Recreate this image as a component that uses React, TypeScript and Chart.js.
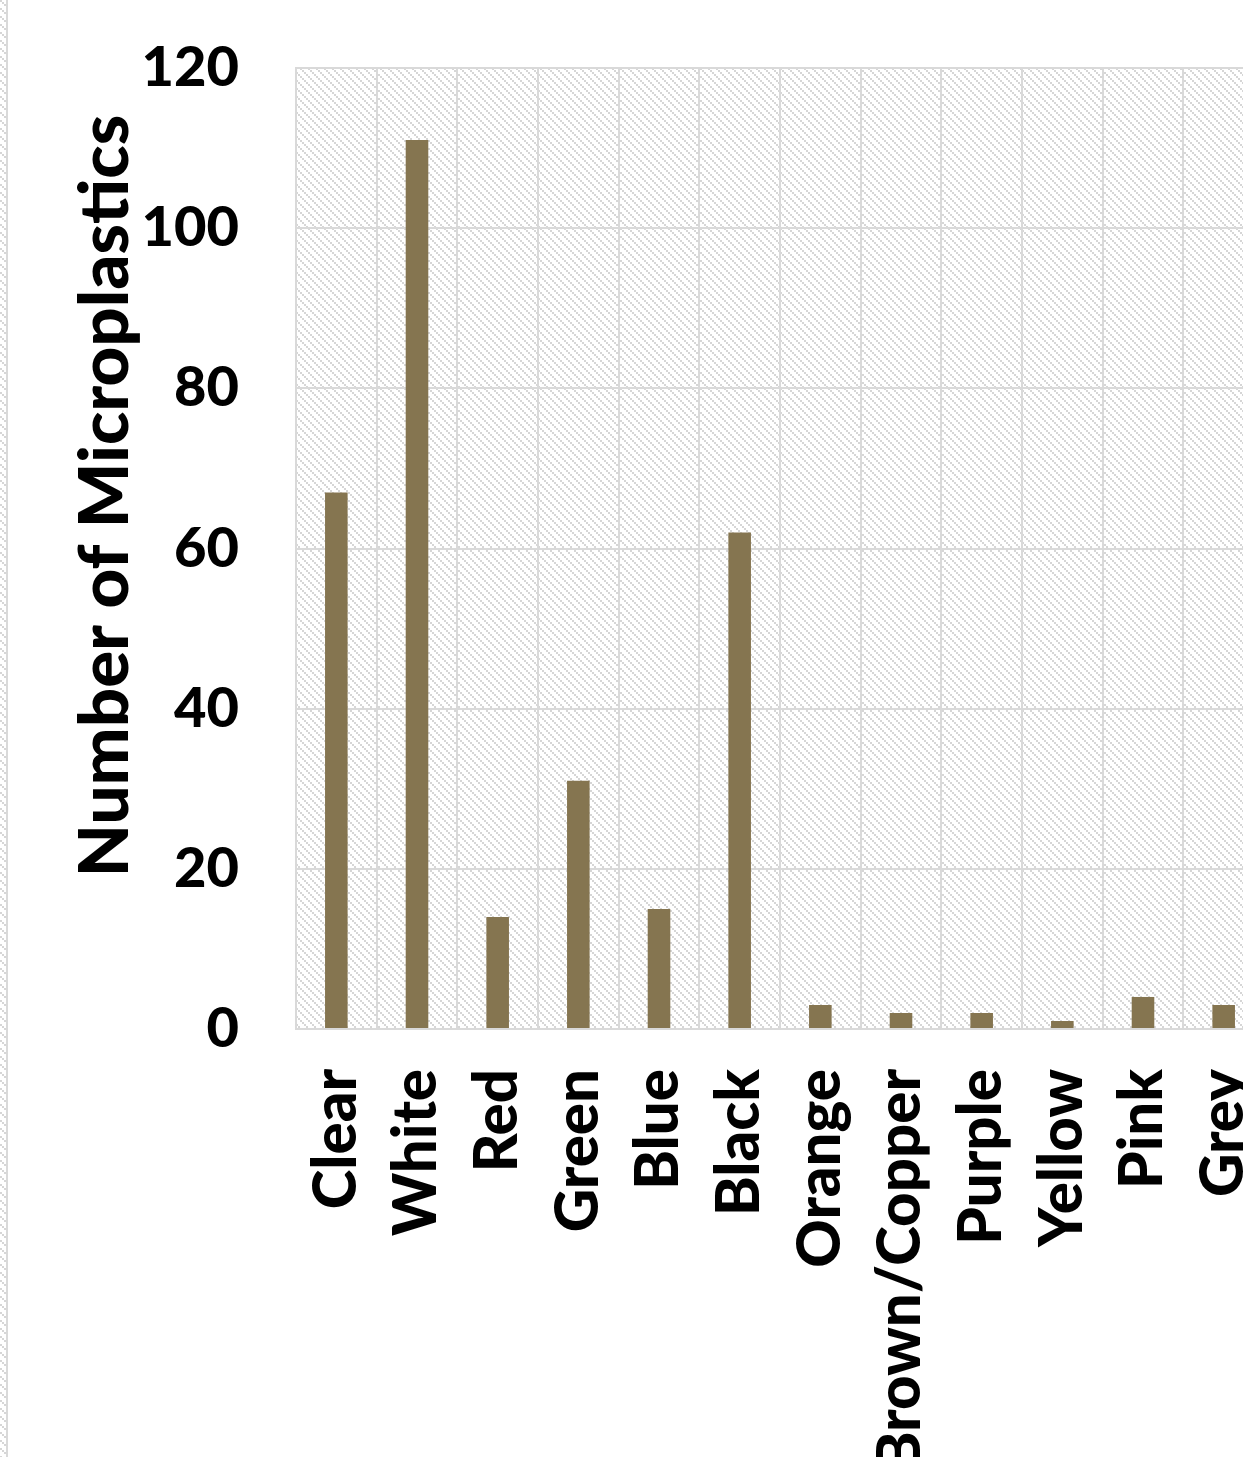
import React, { useEffect, useRef } from "react";
import { Chart, registerables } from "chart.js";

Chart.register(...registerables);

const categories = [
  "Clear",
  "White",
  "Red",
  "Green",
  "Blue",
  "Black",
  "Orange",
  "Brown/Copper",
  "Purple",
  "Yellow",
  "Pink",
  "Grey",
];
const counts = [67, 111, 14, 31, 15, 62, 3, 2, 2, 1, 4, 3];
const yTicks = [0, 20, 40, 60, 80, 100, 120];
const yTitle = "Number of Microplastics";

const FONT = "Lato, 'Open Sans', sans-serif";
const WEIGHT = "900";
const BAR = "#857550";
const GRID = "#d9d9d9";

function makePattern(ctx: CanvasRenderingContext2D) {
  const tile = document.createElement("canvas");
  tile.width = 8;
  tile.height = 8;
  const t = tile.getContext("2d")!;
  t.fillStyle = "#ffffff";
  t.fillRect(0, 0, 8, 8);
  t.fillStyle = "#d6d6d6";
  for (let i = 0; i < 8; i += 2) {
    t.fillRect(i, i, 2, 2);
  }
  return ctx.createPattern(tile, "repeat");
}

export default function App() {
  const ref = useRef<HTMLCanvasElement | null>(null);

  useEffect(() => {
    document.body.style.margin = "0";
    document.documentElement.style.overflow = "hidden";
    const canvas = ref.current!;
    const ctx = canvas.getContext("2d")!;
    const pattern = makePattern(ctx);

    const bgPlugin = {
      id: "hatchBg",
      beforeDraw(chart: any) {
        const { ctx: c, chartArea: a } = chart;
        c.save();
        c.fillStyle = pattern as any;
        c.fillRect(a.left, a.top, a.right - a.left, a.bottom - a.top);
        c.fillRect(0, 0, 6, chart.height);
        c.fillStyle = GRID;
        c.fillRect(6, 0, 2, chart.height);
        c.restore();
      },
      afterDraw(chart: any) {
        const c = chart.ctx;
        c.save();
        c.translate(106, 496);
        c.rotate(-Math.PI / 2);
        c.textAlign = "center";
        c.textBaseline = "middle";
        c.fillStyle = "#000";
        c.font = `${WEIGHT} 69px ${FONT}`;
        c.fillText(yTitle, 0, 0);
        c.restore();
      },
    };

    const chart = new Chart(ctx, {
      type: "bar",
      data: {
        labels: categories,
        datasets: [
          {
            data: counts,
            backgroundColor: BAR,
            borderWidth: 0,
            barPercentage: 0.56,
            categoryPercentage: 0.5,
          },
        ],
      },
      options: {
        animation: false,
        responsive: false,
        devicePixelRatio: 1,
        layout: { padding: { top: 68, left: 0, right: 2, bottom: 0 } },
        plugins: { legend: { display: false }, tooltip: { enabled: false } },
        scales: {
          x: {
            grid: { color: GRID, lineWidth: 2, drawTicks: false, offset: true },
            border: { color: GRID, width: 2 },
            ticks: {
              color: "#000",
              font: { family: FONT, size: 60, weight: WEIGHT as any },
              minRotation: 90,
              maxRotation: 90,
              autoSkip: false,
              padding: 40,
            },
            afterFit(scale: any) {
              scale.height = 1457 - 1029;
              scale.paddingLeft = 0;
              scale.paddingRight = 0;
            },
          },
          y: {
            min: 0,
            max: 120,
            afterBuildTicks(scale: any) {
              scale.ticks = yTicks.map((v) => ({ value: v }));
            },
            grid: { color: GRID, lineWidth: 2, drawTicks: false },
            border: { color: GRID, width: 2 },
            ticks: {
              color: "#000",
              font: { family: FONT, size: 56, weight: WEIGHT as any },
              padding: 57,
            },
            afterFit(scale: any) {
              scale.width = 296;
              scale.paddingTop = 0;
              scale.paddingBottom = 0;
            },
          },
        },
      },
      plugins: [bgPlugin],
    });
    return () => chart.destroy();
  }, []);

  return (
    <div style={{ width: 1243, height: 1457, overflow: "hidden", position: "relative", background: "#fff" }}>
      <canvas ref={ref} width={1266} height={1457} style={{ display: "block" }} />
    </div>
  );
}
